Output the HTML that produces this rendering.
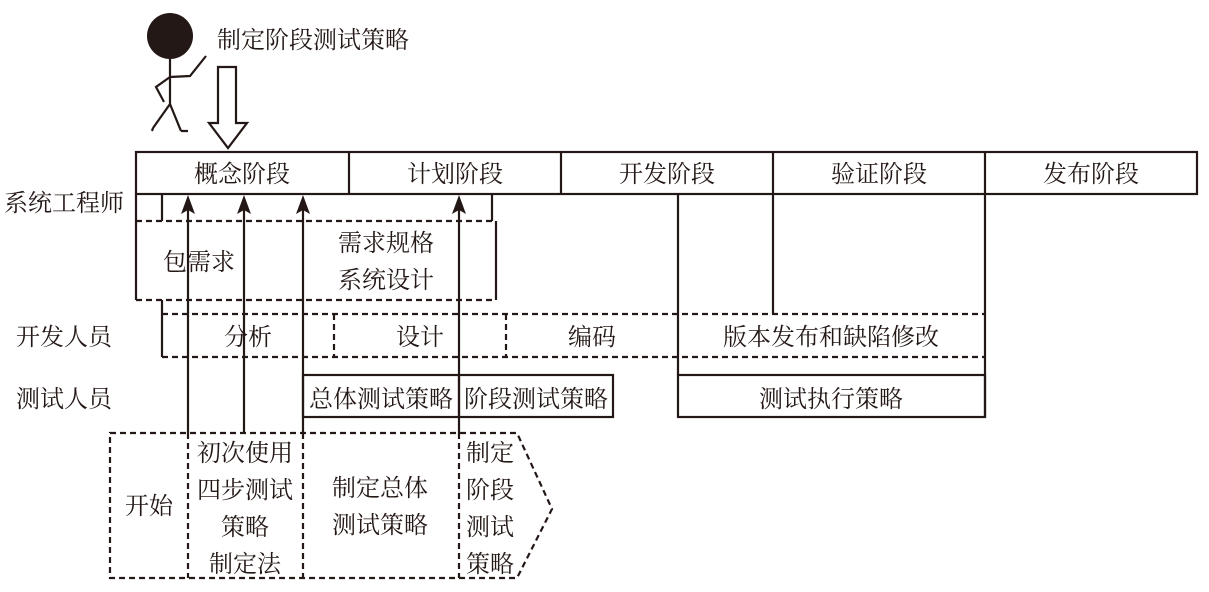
<!DOCTYPE html>
<html><head><meta charset="utf-8"><style>
body{margin:0;background:#fff}
svg text{font-family:"Liberation Serif","Noto Serif CJK SC",serif;font-size:24px;fill:#231815}
</style></head><body>
<svg width="1209" height="587" viewBox="0 0 1209 587" xmlns="http://www.w3.org/2000/svg">
<g stroke="#231815" stroke-width="2.2" fill="none">
<circle cx="170" cy="36" r="23" fill="#231815" stroke="none"/>
<path d="M170,58 L170,104 M170,77 L190,76 L206,56 M170,77 L156,87 L164,102 M170,104 L153,128 M170,104 L181,131 M153,128 L152,131 M181,131 L188,131"/>
<path d="M218,67 L236,67 L236,123 L247,123 L228,148 L209,123 L218,123 Z"/>
<rect x="136" y="152" width="1061" height="42"/>
<path d="M349,152V194 M561,152V194 M773,152V194 M985,152V194"/>
<path d="M136,194V300 M162,194V221 M492,194V221 M496,221V300"/>
<path d="M136,221H496 M136,300H496" stroke-dasharray="6,4"/>
<path d="M162,300V357 M678,194V375 M773,194V314 M985,194V417"/>
<path d="M162,314H985 M162,357H985 M334,314V357 M506,314V357" stroke-dasharray="6,4"/>
<rect x="303" y="375" width="310" height="42"/>
<path d="M459,375V417"/>
<rect x="678" y="375" width="307" height="42"/>
<path d="M110,433H517L552,509L517,578H110Z M188,433V578 M303,433V578 M459,433V578" stroke-dasharray="6,4"/>
<path d="M188,433V205 M244,433V205 M303,433V205 M459,433V205"/>
</g>
<g fill="#231815">
<path d="M188,195 L195,214 L188,210 L181,214 Z"/>
<path d="M244,195 L251,214 L244,210 L237,214 Z"/>
<path d="M303,195 L310,214 L303,210 L296,214 Z"/>
<path d="M459,195 L466,214 L459,210 L452,214 Z"/>
</g>
<text x="217" y="48">制定阶段测试策略</text>
<g text-anchor="middle">
<text x="242" y="182">概念阶段</text>
<text x="455" y="182">计划阶段</text>
<text x="667" y="182">开发阶段</text>
<text x="879" y="182">验证阶段</text>
<text x="1091" y="182">发布阶段</text>
<text x="199" y="270">包需求</text>
<text x="386" y="251">需求规格</text>
<text x="386" y="288">系统设计</text>
<text x="248" y="345">分析</text>
<text x="420" y="345">设计</text>
<text x="592" y="345">编码</text>
<text x="831" y="345">版本发布和缺陷修改</text>
<text x="381" y="407">总体测试策略</text>
<text x="536" y="407">阶段测试策略</text>
<text x="831" y="407">测试执行策略</text>
<text x="149" y="514">开始</text>
<text x="245" y="461">初次使用</text>
<text x="245" y="498">四步测试</text>
<text x="245" y="535">策略</text>
<text x="245" y="572">制定法</text>
<text x="380" y="496">制定总体</text>
<text x="380" y="533">测试策略</text>
<text x="490" y="461">制定</text>
<text x="490" y="498">阶段</text>
<text x="490" y="535">测试</text>
<text x="490" y="572">策略</text>
</g>
<text x="4" y="211">系统工程师</text>
<text x="16" y="345">开发人员</text>
<text x="16" y="407">测试人员</text>
</svg>
</body></html>
